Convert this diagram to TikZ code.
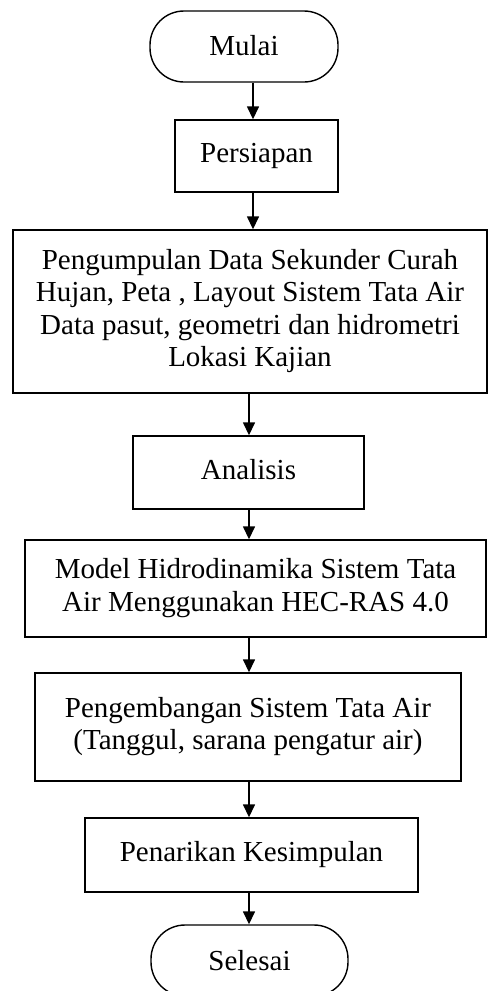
\documentclass[tikz,border=0pt]{standalone}
\usepackage{fontspec}
\setmainfont{Liberation Serif}
\usetikzlibrary{arrows.meta}
\tikzset{
  box/.style={draw, line width=1.4pt, inner sep=0pt, align=center, font=\fontsize{29}{32.5}\selectfont},
  term/.style={box, rounded corners=34pt},
  arr/.style={line width=1.5pt, -{Triangle[length=13pt,width=12pt]}},
}
\begin{document}
\begin{tikzpicture}[x=1pt,y=-1pt]
\useasboundingbox (0,0) rectangle (488,991);
\clip (0,0) rectangle (488,991);
\node[term, minimum width=188pt, minimum height=71pt] (mulai) at (244,46.5) {\raisebox{2pt}{Mulai}};
\node[box, minimum width=163pt, minimum height=72pt] (persiapan) at (256.5,156) {\raisebox{6pt}{Persiapan}};
\node[box, minimum width=474pt, minimum height=163pt] (data) at (250,311.5) {\raisebox{4pt}{\begin{tabular}{@{}c@{}}Pengumpulan Data Sekunder Curah\\Hujan, Peta , Layout Sistem Tata Air\\Data pasut, geometri dan hidrometri\\Lokasi Kajian\end{tabular}}};
\node[box, minimum width=231pt, minimum height=73pt] (analisis) at (248.5,472.5) {\raisebox{7pt}{Analisis}};
\node[box, minimum width=461pt, minimum height=97pt] (model) at (255.5,588.5) {\raisebox{9pt}{\begin{tabular}{@{}c@{}}Model Hidrodinamika Sistem Tata\\Air Menggunakan HEC-RAS 4.0\end{tabular}}};
\node[box, minimum width=426pt, minimum height=108pt] (kembang) at (248,727) {\raisebox{8pt}{\begin{tabular}{@{}c@{}}Pengembangan Sistem Tata Air\\(Tanggul, sarana pengatur air)\end{tabular}}};
\node[box, minimum width=333pt, minimum height=74pt] (tarik) at (251.5,855) {\raisebox{2pt}{Penarikan Kesimpulan}};
\node[term, minimum width=197pt, minimum height=71pt] (selesai) at (249.5,960.5) {\raisebox{1pt}{Selesai}};
\coordinate (xa) at (253,0);
\coordinate (xb) at (249,0);
\draw[arr] (mulai.south -| xa) -- (persiapan.north -| xa);
\draw[arr] (persiapan.south -| xa) -- (data.north -| xa);
\draw[arr] (data.south -| xb) -- (analisis.north -| xb);
\draw[arr] (analisis.south -| xb) -- (model.north -| xb);
\draw[arr] (model.south -| xb) -- (kembang.north -| xb);
\draw[arr] (kembang.south -| xb) -- (tarik.north -| xb);
\draw[arr] (tarik.south -| xb) -- (selesai.north -| xb);
\end{tikzpicture}
\end{document}
